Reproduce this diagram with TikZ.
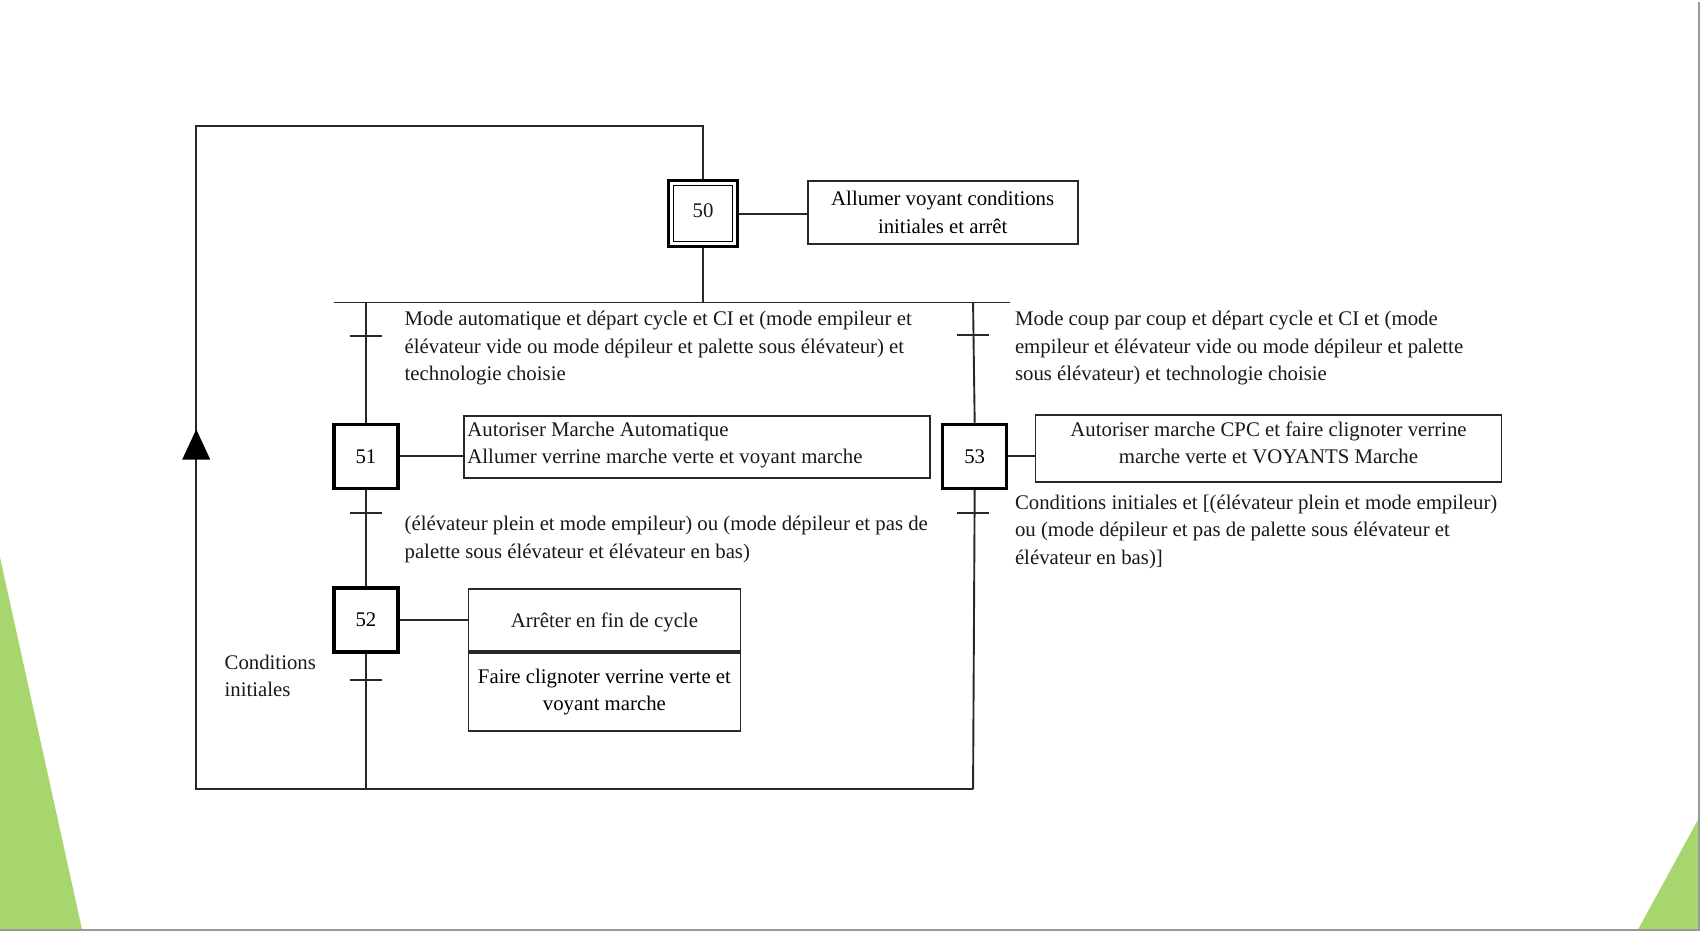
\documentclass[tikz,border=0pt]{standalone}
\usepackage{fontspec}
\setmainfont{Liberation Serif}
\definecolor{slidegreen}{RGB}{168,214,110}
\definecolor{linegray}{RGB}{40,40,40}
\begin{document}
\begin{tikzpicture}[x=1.0842pt,y=-1.0842pt,
  font=\fontsize{20.8}{27.5}\selectfont,
  ln/.style={line width=1.9pt, draw=linegray},
  stepbox/.style={draw=black, line width=3.4pt, minimum width=64pt, minimum height=64pt, inner sep=0pt, fill=white},
  actbox/.style={draw=linegray, line width=1.8pt, inner sep=0pt, align=center, fill=white},
  acttext/.style={inner sep=0pt, align=center, text=black!90},
  cond/.style={anchor=north west, align=left, inner sep=0pt, text=black!90}]

\useasboundingbox (0,0) rectangle (1568,858.7);
% slide background
\fill[white] (0,0) rectangle (1568,858.7);
\fill[slidegreen] (0,514) -- (75.6,857) -- (0,857) -- cycle;
\fill[slidegreen] (1567,754.6) -- (1511,857) -- (1567,857) -- cycle;
\draw[black!40, line width=2.4pt] (1567,2) -- (1567,857.6) -- (0,857.6);

% coordinates
\coordinate (top) at (648.5,116);
\coordinate (tl) at (181,116);
\coordinate (bl) at (181,728);
\coordinate (br) at (897.5,728);
\coordinate (dL) at (308,279);
\coordinate (dR) at (932,279);
\coordinate (jL) at (337.5,279);
\coordinate (jR) at (897.5,279);
\coordinate (bL) at (337.5,728);
\coordinate (t1) at (337.5,310);
\coordinate (t2) at (337.5,473);
\coordinate (t3) at (337.5,627);
\coordinate (t4) at (897.5,309);
\coordinate (t5) at (897.5,473);
\coordinate (arr) at (181,410);

% steps
\node[stepbox, minimum width=69pt, minimum height=66pt] (s50) at (648.5,197) {};
\node[draw=black, line width=1.1pt, minimum width=59pt, minimum height=56pt, inner sep=0pt] (s50i) at (s50) {};
\node[acttext] (n50) at ([yshift=3pt]s50.center) {50};
\node[stepbox] (s51) at (337.5,421) {51};
\node[stepbox] (s52) at (337.5,572) {52};
\node[stepbox] (s53) at (899,421) {53};

% actions
\node[actbox, minimum width=270pt, minimum height=63pt] (a50) at (869.5,196) {Allumer voyant conditions\\initiales et arrêt};
\node[actbox, minimum width=466pt, minimum height=62pt] (a51) at (643,412.5) {};
\node[acttext, align=left, anchor=west] (a51t) at ([xshift=4pt,yshift=2pt]a51.west) {Autoriser Marche Automatique\\Allumer verrine marche verte et voyant marche};
\node[actbox, minimum width=466pt, minimum height=67pt] (a53) at (1170,414) {};
\node[acttext] (a53t) at ([yshift=6pt]a53.center) {Autoriser marche CPC et faire clignoter verrine\\marche verte et VOYANTS Marche};
\node[actbox, minimum width=272pt, minimum height=62pt] (a52a) at (557.5,571.5) {};
\node[acttext] (a52at) at ([yshift=-3pt]a52a.center) {Arrêter en fin de cycle};
\node[actbox, minimum width=272pt, minimum height=78pt] (a52b) at (557.5,638.5) {Faire clignoter verrine verte et\\voyant marche};

% links
\draw[ln] (s50.north) -- (top) -- (tl) -- (bl) -- (br);
\draw[ln] (s50.south) -- (s50.south |- dL);
\draw[ln] (dL) -- (dR);
\draw[ln] (jL) -- (s51.north);
\draw[ln] (s51.south) -- (s52.north);
\draw[ln] (s52.south) -- (bL);
\draw[ln] (jR) -- (s53.north);
\draw[ln] (s53.south) -- (br);
\draw[ln] (s50.east) -- (s50.east -| a50.west);
\draw[ln] (s51.east) -- (s51.east -| a51.west);
\draw[ln] (s52.east) -- (s52.east -| a52a.west);
\draw[ln] (s53.east) -- (s53.east -| a53.west);

% transitions
\draw[ln] (t1) ++(-15,0) -- ++(30,0);
\draw[ln] (t2) ++(-15,0) -- ++(30,0);
\draw[ln] (t3) ++(-15,0) -- ++(30,0);
\draw[ln] (t4) ++(-15,0) -- ++(30,0);
\draw[ln] (t5) ++(-15,0) -- ++(30,0);

% arrow on return line
\fill[black] (arr) ++(0,-14) -- ++(13,28) -- ++(-26,0) -- cycle;

% receptivities
\node[cond] (r1) at (373,287) {Mode automatique et départ cycle et CI et (mode empileur et\\élévateur vide ou mode dépileur et palette sous élévateur) et\\technologie choisie};
\node[cond] (r2) at (373,476) {(élévateur plein et mode empileur) ou (mode dépileur et pas de\\palette sous élévateur et élévateur en bas)};
\node[cond] (r3) at (207,604) {Conditions\\initiales};
\node[cond] (r4) at (936,287) {Mode coup par coup et départ cycle et CI et (mode\\empileur et élévateur vide ou mode dépileur et palette\\sous élévateur) et technologie choisie};
\node[cond] (r5) at (936,456) {Conditions initiales et [(élévateur plein et mode empileur)\\ou (mode dépileur et pas de palette sous élévateur et\\élévateur en bas)]};
\end{tikzpicture}
\end{document}
